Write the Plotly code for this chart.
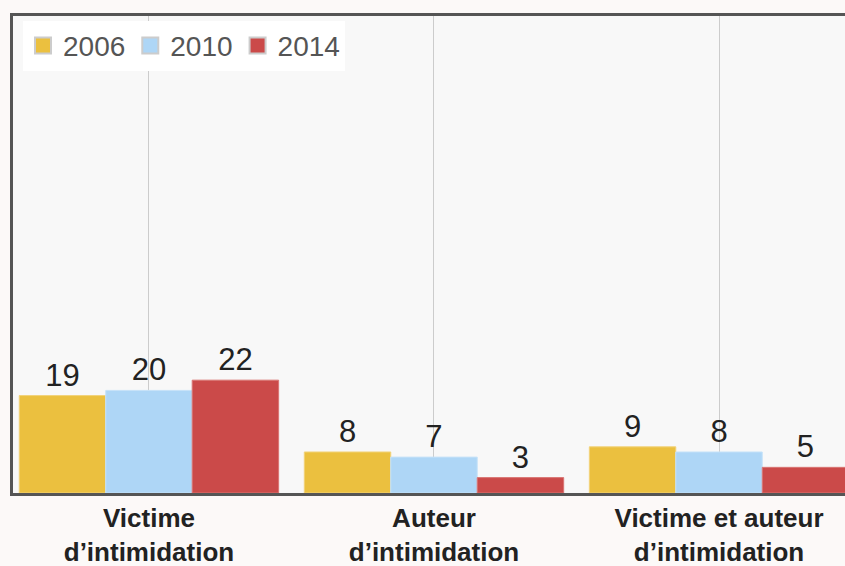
import plotly.graph_objects as go

categories = ["Victime<br>d’intimidation", "Auteur<br>d’intimidation", "Victime et auteur<br>d’intimidation"]
years = ["2006", "2010", "2014"]
values_2006 = [19, 8, 9]
values_2010 = [20, 7, 8]
values_2014 = [22, 3, 5]
colors = ["#EBC03F", "#AED6F6", "#CB4A49"]
edge_colors = ["#F2D27A", "#C6E2F8", "#D97573"]

series = [values_2006, values_2010, values_2014]

fig = go.Figure()
for yr, vals, col, ec in zip(years, series, colors, edge_colors):
    fig.add_trace(go.Bar(
        x=categories, y=vals, name=yr,
        marker=dict(color=col, line=dict(color=ec, width=1)),
        text=[str(v) for v in vals], textposition="outside",
        textfont=dict(family="Liberation Sans, Arial, sans-serif", size=31, color="#222222"),
        cliponaxis=False, constraintext="none",
        showlegend=False,
    ))
# legend entries (larger square swatches)
for yr, col in zip(years, colors):
    fig.add_trace(go.Scatter(
        x=[None], y=[None], name=yr, mode="markers",
        marker=dict(symbol="square", size=16, color=col, line=dict(color="#CCCCCC", width=2)),
        showlegend=True,
    ))

fig.update_layout(
    width=845, height=566,
    margin=dict(l=13, r=0, t=16, b=73),
    paper_bgcolor="#FCF9F8",
    plot_bgcolor="#F8F8F8",
    barmode="group",
    bargap=0.09,
    bargroupgap=0,
    font=dict(family="Liberation Sans, Arial, sans-serif", color="#222222"),
    legend=dict(
        orientation="h", x=0.012, y=0.99, xanchor="left", yanchor="top",
        bgcolor="#FFFFFF", borderwidth=0,
        font=dict(size=28, color="#555555"),
        itemwidth=30, tracegroupgap=0,
    ),
    xaxis=dict(
        range=[-0.477, 2.442],
        automargin=False,
        showgrid=True, gridcolor="#CCCCCC", gridwidth=1,
        showline=True, linecolor="#555555", linewidth=3, mirror=True,
        ticks="", tickfont=dict(size=26, color="#222222", family="Liberation Sans, Arial, sans-serif", weight="bold"),
        fixedrange=True,
    ),
    yaxis=dict(
        range=[0, 93],
        automargin=False,
        showgrid=False, zeroline=False,
        showline=True, linecolor="#555555", linewidth=3, mirror=False,
        showticklabels=False, ticks="",
        fixedrange=True,
    ),
)

fig.write_html(
    "out.html",
    config={"displayModeBar": False},
    post_script="document.body.style.margin='0';document.body.style.overflow='hidden';",
)
